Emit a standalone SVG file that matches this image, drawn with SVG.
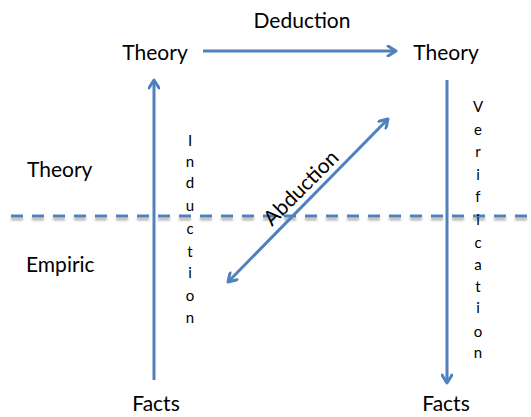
<svg xmlns="http://www.w3.org/2000/svg" width="531" height="417" viewBox="0 0 531 417">
<defs>
<style>
.t{font-family:Lato,"Open Sans",sans-serif;font-size:21px;fill:#000}
.v{font-family:Lato,"Open Sans",sans-serif;font-size:15px;fill:#000;text-anchor:middle}
.a{fill:none;stroke:#4F81BD;stroke-width:3}
</style>
<marker id="ah" viewBox="0 0 12 12" refX="10" refY="6" markerWidth="12" markerHeight="12" markerUnits="userSpaceOnUse" orient="auto-start-reverse">
<polyline points="2,1 10,6 2,11" fill="none" stroke="#4F81BD" stroke-width="3" stroke-linecap="round" stroke-linejoin="round"/>
</marker>
<filter id="sh" filterUnits="userSpaceOnUse" x="0" y="200" width="531" height="30">
<feGaussianBlur in="SourceAlpha" stdDeviation="1.3"/>
<feOffset dx="0" dy="3" result="b"/>
<feComponentTransfer><feFuncA type="linear" slope="0.3"/></feComponentTransfer>
<feMerge><feMergeNode/><feMergeNode in="SourceGraphic"/></feMerge>
</filter>
</defs>
<rect width="531" height="417" fill="#fff"/>
<g id="boundary">
<line x1="11" y1="216" x2="531" y2="216" stroke="#4F81BD" stroke-width="3" stroke-dasharray="12 9" filter="url(#sh)"/>
</g>
<g id="connectors">
<line class="a" x1="203" y1="51" x2="396" y2="51" marker-end="url(#ah)"/>
<line class="a" x1="154" y1="380" x2="154" y2="80" marker-end="url(#ah)"/>
<line class="a" x1="447" y1="80" x2="447" y2="383" marker-end="url(#ah)"/>
<line class="a" x1="228" y1="282" x2="388" y2="119" marker-start="url(#ah)" marker-end="url(#ah)"/>
</g>
<g id="theory-top-left"><text class="t" x="155" y="60" text-anchor="middle">Theory</text></g>
<g id="theory-top-right"><text class="t" x="446" y="60" text-anchor="middle">Theory</text></g>
<g id="facts-left"><text class="t" x="156" y="411" text-anchor="middle">Facts</text></g>
<g id="facts-right"><text class="t" x="446" y="411" text-anchor="middle">Facts</text></g>
<g id="label-theory"><text class="t" x="27" y="177">Theory</text></g>
<g id="label-empiric"><text class="t" x="26" y="272">Empiric</text></g>
<g id="label-deduction"><text class="t" x="302" y="28" text-anchor="middle">Deduction</text></g>
<g id="label-abduction"><text class="t" x="0" y="0" text-anchor="middle" transform="translate(306,193) rotate(-45)">Abduction</text></g>
<g id="label-induction">
<text class="v" x="190" y="146">I</text>
<text class="v" x="190" y="167">n</text>
<text class="v" x="190" y="188">d</text>
<text class="v" x="190" y="211">u</text>
<text class="v" x="190" y="234">c</text>
<text class="v" x="190" y="257">t</text>
<text class="v" x="190" y="278">i</text>
<text class="v" x="190" y="301">o</text>
<text class="v" x="190" y="323">n</text>
</g>
<g id="label-verification">
<text class="v" x="478" y="112">V</text>
<text class="v" x="478" y="135">e</text>
<text class="v" x="478" y="157">r</text>
<text class="v" x="478" y="180">i</text>
<text class="v" x="478" y="202">f</text>
<text class="v" x="478" y="225">i</text>
<text class="v" x="478" y="248">c</text>
<text class="v" x="478" y="270">a</text>
<text class="v" x="478" y="292">t</text>
<text class="v" x="478" y="313">i</text>
<text class="v" x="478" y="337">o</text>
<text class="v" x="478" y="358">n</text>
</g>
</svg>
